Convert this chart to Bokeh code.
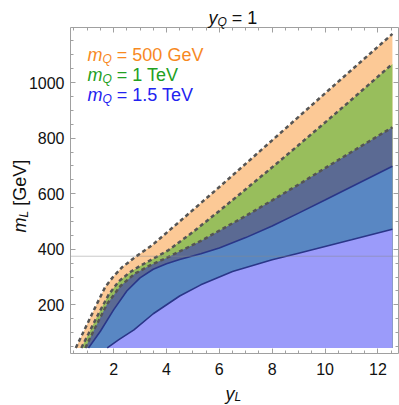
from math import pi
from bokeh.plotting import figure
from bokeh.models import Range1d, LinearAxis, Label, FixedTicker
from bokeh.embed import file_html
from bokeh.resources import INLINE

# ---------------- data ----------------
mL_floor = 45  # lower edge of the shaded regions [GeV]

# boundary of m_Q = 500 GeV region (top, dashed)
x_500 = [0.57, 1.31, 1.68, 2.0, 2.32, 2.82, 3.45, 4.5, 6.0, 8.0, 10.0, 12.55]
y_500 = [45, 192, 264, 303, 335, 372, 414, 500, 624, 792, 961, 1175]

# boundary of m_Q = 1 TeV region (dashed)
x_1000 = [0.78, 1.05, 1.43, 1.81, 2.19, 2.6, 3.0, 3.5, 4.08, 5.0, 6.0, 7.0, 8.0, 9.0, 10.0, 11.0, 12.55]
y_1000 = [45, 96, 168, 236, 284, 316, 340, 366, 397, 462, 538, 616, 695, 775, 856, 938, 1067]

# boundary of m_Q = 1.5 TeV region (dashed)
x_1500 = [0.93, 1.25, 1.76, 2.26, 2.8, 3.4, 4.0, 4.6, 5.3, 6.0, 7.0, 8.0, 9.0, 10.0, 11.0, 12.55]
y_1500 = [45, 108, 204, 268, 312, 343, 369, 397, 430, 467, 520, 576, 633, 692, 750, 839]

# inner solid contour
x_in1 = [1.05, 1.5, 2.0, 2.5, 3.0, 3.5, 4.0, 4.5, 5.3, 6.0, 7.0, 8.0, 9.0, 10.0, 11.0, 12.55]
y_in1 = [45, 105, 182, 250, 297, 328, 348, 363, 384, 405, 442, 484, 530, 577, 625, 699]

# innermost solid contour
x_in2 = [1.76, 2.2, 2.77, 3.5, 4.5, 5.3, 6.5, 8.0, 9.0, 10.0, 11.0, 12.55]
y_in2 = [45, 75, 110, 168, 232, 272, 320, 362, 386, 410, 434, 472]

ref_line = 375

x_ticks = [2, 4, 6, 8, 10, 12]
x_minor = [0.5 * i for i in range(1, 26)]
y_ticks = [200, 400, 600, 800, 1000]
y_minor = [50 * i for i in range(1, 24)]

legend_entries = [("500 GeV", "#F7891F"), ("1 TeV", "#22A022"), ("1.5 TeV", "#2222F0")]

# plot-box ranges
XI = (0.37, 12.78)
YI = (25, 1198)

# ---------------- geometry (page pixels) ----------------
CW, CH = 399, 405          # canvas size
BL, BR, BT, BB = 70, 398, 27, 353   # plot box edges
sx = (XI[1] - XI[0]) / (BR - BL)
sy = (YI[1] - YI[0]) / (BB - BT)
XR = (XI[0] - BL * sx, XI[1] + (CW - BR) * sx)
YR = (YI[0] - (CH - BB) * sy, YI[1] + BT * sy)

p = figure(width=CW, height=CH, x_range=Range1d(*XR), y_range=Range1d(*YR),
           output_backend="svg", toolbar_location=None,
           min_border_left=0, min_border_top=0, min_border_bottom=0, min_border_right=0,
           background_fill_color="white", border_fill_color="white", x_axis_location=None,
           y_axis_location=None)
p.xgrid.grid_line_color = None
p.ygrid.grid_line_color = None
p.outline_line_color = None

FONT = "Liberation Sans"
AX = "#a0a0a0"


def make_axis(place, ticks, minor, loc, bounds, labels, standoff=6):
    ax = LinearAxis(ticker=FixedTicker(ticks=ticks, minor_ticks=minor), fixed_location=loc,
                    bounds=bounds)
    ax.axis_line_color = AX
    ax.major_tick_line_color = AX
    ax.minor_tick_line_color = AX
    ax.major_tick_in = 5
    ax.major_tick_out = 0
    ax.minor_tick_in = 3
    ax.minor_tick_out = 0
    ax.major_label_text_font = FONT
    if labels:
        ax.major_label_text_color = "#111111"
        ax.major_label_text_font_size = "16px"
        ax.major_label_standoff = standoff
    else:
        ax.major_label_text_color = None
        ax.major_label_text_font_size = "1px"
        ax.major_label_standoff = 0
    p.add_layout(ax, place)


# ---------------- regions ----------------
fills = [
    (x_500, y_500, "#FCC996"),
    (x_1000, y_1000, "#98BE5C"),
    (x_1500, y_1500, "#5B6A93"),
    (x_in1, y_in1, "#5987C3"),
    (x_in2, y_in2, "#9B9BFA"),
]
for xs, ys, col in fills:
    p.patch(xs + [xs[-1]], ys + [mL_floor], fill_color=col, line_color=None)

for xs, ys in [(x_500, y_500), (x_1000, y_1000), (x_1500, y_1500)]:
    p.line(xs, ys, line_color="#555555", line_width=2.5, line_dash="4 3")
for xs, ys in [(x_in1, y_in1), (x_in2, y_in2)]:
    p.line(xs, ys, line_color="#2A3688", line_width=1.6)

p.segment(x0=[XI[0]], x1=[XI[1]], y0=[ref_line], y1=[ref_line], line_color="#888888",
          line_alpha=0.45, line_width=1)

make_axis("below", x_ticks, x_minor, YI[0], XI, True, 9)
make_axis("above", x_ticks, x_minor, YI[1], XI, False)
make_axis("left", y_ticks, y_minor, XI[0], YI, True, 6)
make_axis("right", y_ticks, y_minor, XI[1], YI, False)

# ---------------- rich texts ----------------
W = {' ': 0.278, '=': 0.584, '.': 0.278, 'G': 0.778, 'e': 0.556, 'V': 0.667, 'T': 0.611,
     '[': 0.278, ']': 0.278, 'L': 0.556, 'Q': 0.778, 'm': 0.833, 'y': 0.5}
for d in "0123456789":
    W[d] = 0.556


def tw(s, size):
    return sum(W.get(c, 0.6) for c in s) * size


def rich(parts, px, py, color, vertical=False):
    pos = 0.0
    for txt, size, style, shift in parts:
        lead = len(txt) - len(txt.lstrip(' '))
        pos += lead * W[' '] * size
        t = txt.lstrip(' ')
        if vertical:
            dx = px + shift - BL
            dy = BB - (py - pos)
            ang = pi / 2
        else:
            dx = px + pos - BL
            dy = BB - (py + shift)
            ang = 0
        p.add_layout(Label(x=XI[0], y=YI[0], x_offset=dx, y_offset=dy, text=t,
                           text_font=FONT, text_font_size=f"{size}px", text_font_style=style,
                           text_color=color, text_align="left", text_baseline="alphabetic",
                           angle=ang))
        pos += tw(t, size)


rich([("y", 18, "italic", 0), ("Q", 12, "italic", 4), (" = 1", 18, "normal", 0)], 208, 17, "#111111")
for i, (lab, col) in enumerate(legend_entries):
    rich([("m", 18, "italic", 0), ("Q", 12, "italic", 4), (" = " + lab, 18, "normal", 0)],
         87, 54 + 20 * i, col)
rich([("y", 18, "italic", 0), ("L", 12, "italic", 3)], 225, 393, "#111111")
rich([("m", 18, "italic", 0), ("L", 12, "italic", 4), (" [GeV]", 18, "normal", 0)],
     19.5, 232, "#111111", vertical=True)

open("out.html", "w").write(file_html(p, INLINE))
